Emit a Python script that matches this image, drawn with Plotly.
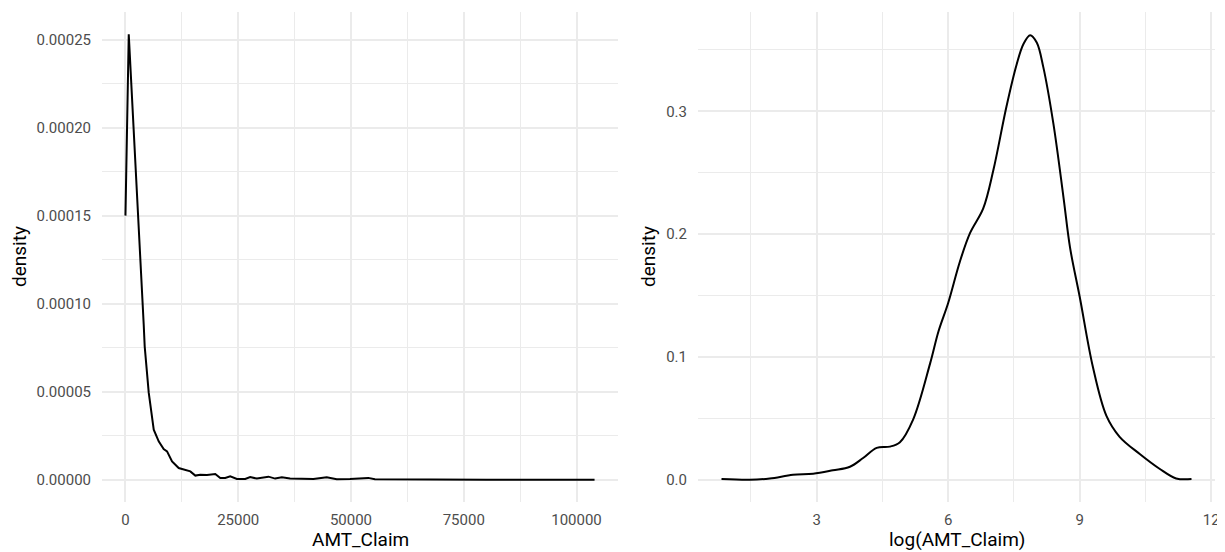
import plotly.graph_objects as go

# Left panel: density of AMT_Claim
left_x = [0, 730, 4050, 4270, 5160, 6270, 7370, 8470, 9220, 10330, 11800, 13270, 14380,
          15490, 16590, 18070, 19180, 19910, 21020, 22120, 23230, 24710, 26550, 27650,
          29130, 31710, 33190, 34670, 36500, 38720, 41670, 44620, 46840, 49780, 53830,
          55310, 60000, 80000, 104000]
left_density = [0.000150, 0.000253, 0.000088, 0.0000756, 0.0000494, 0.0000284, 0.0000218,
                0.0000174, 0.0000161, 0.0000104, 0.0000066, 0.0000057, 0.0000047,
                0.0000023, 0.0000028, 0.0000027, 0.0000028, 0.0000032, 0.0000009,
                0.0000009, 0.0000019, 0.0000004, 0.0000004, 0.0000015, 0.0000006,
                0.0000017, 0.0000006, 0.0000013, 0.0000006, 0.0000006, 0.0000004,
                0.0000013, 0.0000002, 0.0000004, 0.0000010, 0.0000002, 0.0000001, 0.0, 0.0]

# Right panel: density of log(AMT_Claim)
right_x = [0.83, 1.47, 1.93, 2.46, 2.92, 3.37, 3.76, 4.06, 4.37, 4.67, 4.90, 5.20, 5.59,
           5.78, 6.00, 6.27, 6.50, 6.80, 7.03, 7.33, 7.56, 7.72, 7.87, 8.02, 8.17, 8.40,
           8.63, 8.78, 9.00, 9.30, 9.61, 9.91, 10.37, 10.82, 11.20, 11.55]
right_density = [0.0006, 0.0, 0.001, 0.004, 0.0049, 0.0077, 0.0106, 0.0177, 0.026, 0.027,
                 0.0306, 0.049, 0.095, 0.121, 0.144, 0.178, 0.201, 0.221, 0.252, 0.304,
                 0.338, 0.355, 0.362, 0.356, 0.336, 0.290, 0.230, 0.189, 0.149, 0.092,
                 0.052, 0.035, 0.021, 0.009, 0.0011, 0.0006]

left_ticks = [0, 25000, 50000, 75000, 100000]
left_ytick = [0.0, 0.00005, 0.0001, 0.00015, 0.0002, 0.00025]
right_ticks = [3, 6, 9, 12]
right_ytick = [0.0, 0.1, 0.2, 0.3]

# page body has an 8px margin, so the figure starts at (8, 8)
OFF = 8
W, H = 1225 - OFF, 552 - OFF
ML = 102 - OFF
MT = 12 - OFF
MR = W - (1215 - OFF)
MB = H - (502 - OFF)
PW = W - ML - MR
PH = H - MT - MB

FONT = "Roboto, 'Open Sans', sans-serif"
TICKFONT = dict(family=FONT, size=15, color="#4D4D4D")
TITLEFONT = dict(family=FONT, size=19, color="#000000")
GRID = "#EBEBEB"

fig = go.Figure()
fig.add_trace(go.Scatter(x=left_x, y=left_density, mode="lines",
                         line=dict(color="black", width=2, shape="linear"),
                         xaxis="x", yaxis="y", showlegend=False, hoverinfo="skip"))
fig.add_trace(go.Scatter(x=right_x, y=right_density, mode="lines",
                         line=dict(color="black", width=2, shape="spline", smoothing=1.0),
                         xaxis="x2", yaxis="y2", showlegend=False, hoverinfo="skip"))

def ax(domain, rng, tickvals, ticktext, minor_dtick, anchor, standoff):
    return dict(domain=domain, range=rng, tickmode="array", tickvals=tickvals,
                ticktext=ticktext, showgrid=True, gridcolor=GRID, gridwidth=2,
                zeroline=False, showline=False, ticks="", tickfont=TICKFONT,
                ticklabelstandoff=standoff, anchor=anchor, automargin=False,
                minor=dict(dtick=minor_dtick, tick0=0, showgrid=True, gridcolor=GRID,
                           gridwidth=1.2, ticks=""))

def px_x(p):
    return (p - OFF - ML) / PW

def px_y(p):
    return (H - MB - (p - OFF)) / PH

lx0, lx1 = 0.0, px_x(618)
rx0, rx1 = px_x(698), 1.0

fig.update_layout(
    width=W, height=H,
    margin=dict(l=ML, r=MR, t=MT, b=MB, pad=0),
    paper_bgcolor="white", plot_bgcolor="white",
    font=dict(family=FONT),
    xaxis=ax([lx0, lx1], [-5200, 109200], left_ticks, [str(v) for v in left_ticks], 12500, "y", 7),
    yaxis=ax([0, 1], [-0.0000127, 0.0002657], left_ytick, [f"{v:.5f}" for v in left_ytick], 0.000025, "x", 10),
    xaxis2=ax([rx0, rx1], [0.294, 12.086], right_ticks, [str(v) for v in right_ticks], 1.5, "y2", 7),
    yaxis2=ax([0, 1], [-0.0181, 0.3809], right_ytick, [f"{v:.1f}" for v in right_ytick], 0.05, "x2", 10),
)

annos = [
    dict(text="AMT_Claim", x=px_x(360), y=px_y(539), textangle=0),
    dict(text="log(AMT_Claim)", x=px_x(956.5), y=px_y(539), textangle=0),
    dict(text="density", x=px_x(19), y=px_y(257), textangle=-90),
    dict(text="density", x=px_x(648), y=px_y(257), textangle=-90),
]
for a in annos:
    fig.add_annotation(xref="paper", yref="paper", showarrow=False,
                       xanchor="center", yanchor="middle", font=TITLEFONT, **a)

fig.write_html("out.html")
